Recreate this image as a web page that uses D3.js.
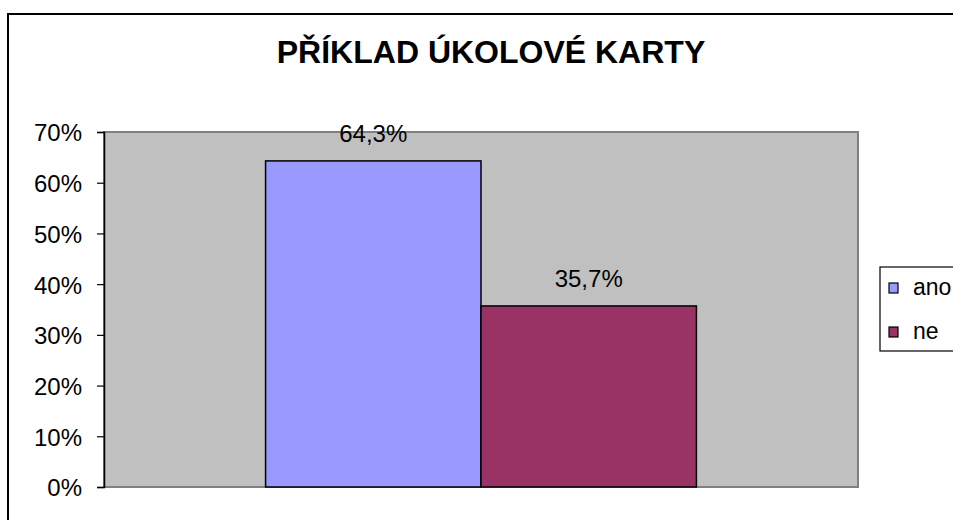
<!DOCTYPE html>
<html>
<head>
<meta charset="utf-8">
<script src="https://cdn.jsdelivr.net/npm/d3@7"></script>
<style>
  html, body { margin: 0; padding: 0; background: #fff; }
  svg { display: block; font-family: "Liberation Sans", Arial, sans-serif; }
</style>
</head>
<body>
<div id="chart"></div>
<script>
const TITLE = "PŘÍKLAD ÚKOLOVÉ KARTY";
const categories = ["ano", "ne"];
const values = [0.643, 0.357];
const valueLabels = ["64,3%", "35,7%"];
const colors = ["#9999FF", "#993366"];
const yTicks = [0, 0.1, 0.2, 0.3, 0.4, 0.5, 0.6, 0.7];

const width = 953;
const height = 520;
const plot = { left: 104, top: 132, right: 858, bottom: 487 };

const svg = d3.select("#chart").append("svg").attr("width", width).attr("height", height);

// outer chart frame (runs off the right and bottom edges)
svg.append("rect")
  .attr("x", 8).attr("y", 14)
  .attr("width", 1000).attr("height", 600)
  .attr("fill", "#fff").attr("stroke", "#000").attr("stroke-width", 2);

svg.append("text")
  .attr("x", 491).attr("y", 63)
  .attr("text-anchor", "middle")
  .attr("font-size", "32px").attr("font-weight", "bold")
  .attr("fill", "#000")
  .text(TITLE);

const x = d3.scaleBand().domain(categories).range([plot.left, plot.right]).paddingOuter(0.75).paddingInner(0);
// gap width 150% -> each bar 215px of 754 (two bars + 1.5 bar widths)
const y = d3.scaleLinear().domain([0, 0.7]).range([plot.bottom, plot.top]);

svg.append("rect")
  .attr("x", plot.left).attr("y", plot.top)
  .attr("width", plot.right - plot.left).attr("height", plot.bottom - plot.top)
  .attr("fill", "#C0C0C0").attr("stroke", "#808080").attr("stroke-width", 2);

svg.append("g")
  .selectAll("rect")
  .data(categories)
  .join("rect")
  .attr("x", (d) => x(d))
  .attr("y", (d, i) => y(values[i]))
  .attr("width", x.bandwidth())
  .attr("height", (d, i) => y(0) - y(values[i]))
  .attr("fill", (d, i) => colors[i])
  .attr("stroke", "#000").attr("stroke-width", 1.5);

svg.append("g")
  .selectAll("text")
  .data(categories)
  .join("text")
  .attr("x", (d) => x(d) + x.bandwidth() / 2)
  .attr("y", (d, i) => y(values[i]) - 19)
  .attr("text-anchor", "middle")
  .attr("font-size", "24px")
  .attr("fill", "#000")
  .text((d, i) => valueLabels[i]);

svg.append("g")
  .attr("transform", `translate(${plot.left},0)`)
  .call(d3.axisLeft(y).tickValues(yTicks).tickFormat(d3.format(".0%")).tickSize(7).tickPadding(15))
  .call((axis) => axis.select(".domain").attr("stroke", "#000").attr("stroke-width", 1.5))
  .call((axis) => axis.selectAll(".tick line").attr("stroke", "#000").attr("stroke-width", 1.2))
  .call((axis) => axis.selectAll("text")
    .attr("font-size", "24px")
    .attr("font-family", "'Liberation Sans', Arial, sans-serif")
    .attr("fill", "#000")
    .attr("dy", "0.37em"));

// legend
const legend = svg.append("g");
legend.append("rect")
  .attr("x", 880).attr("y", 267)
  .attr("width", 120).attr("height", 84)
  .attr("fill", "#fff").attr("stroke", "#000").attr("stroke-width", 1.2);

const legendRows = legend.selectAll("g")
  .data(categories)
  .join("g")
  .attr("transform", (d, i) => `translate(889, ${283 + i * 44})`);

legendRows.append("rect")
  .attr("width", 9).attr("height", 10)
  .attr("fill", (d, i) => colors[i])
  .attr("stroke", "#000").attr("stroke-width", 1.2);

legendRows.append("text")
  .attr("x", 24).attr("y", 12)
  .attr("font-size", "23px")
  .attr("fill", "#000")
  .text((d) => d);
</script>
</body>
</html>
